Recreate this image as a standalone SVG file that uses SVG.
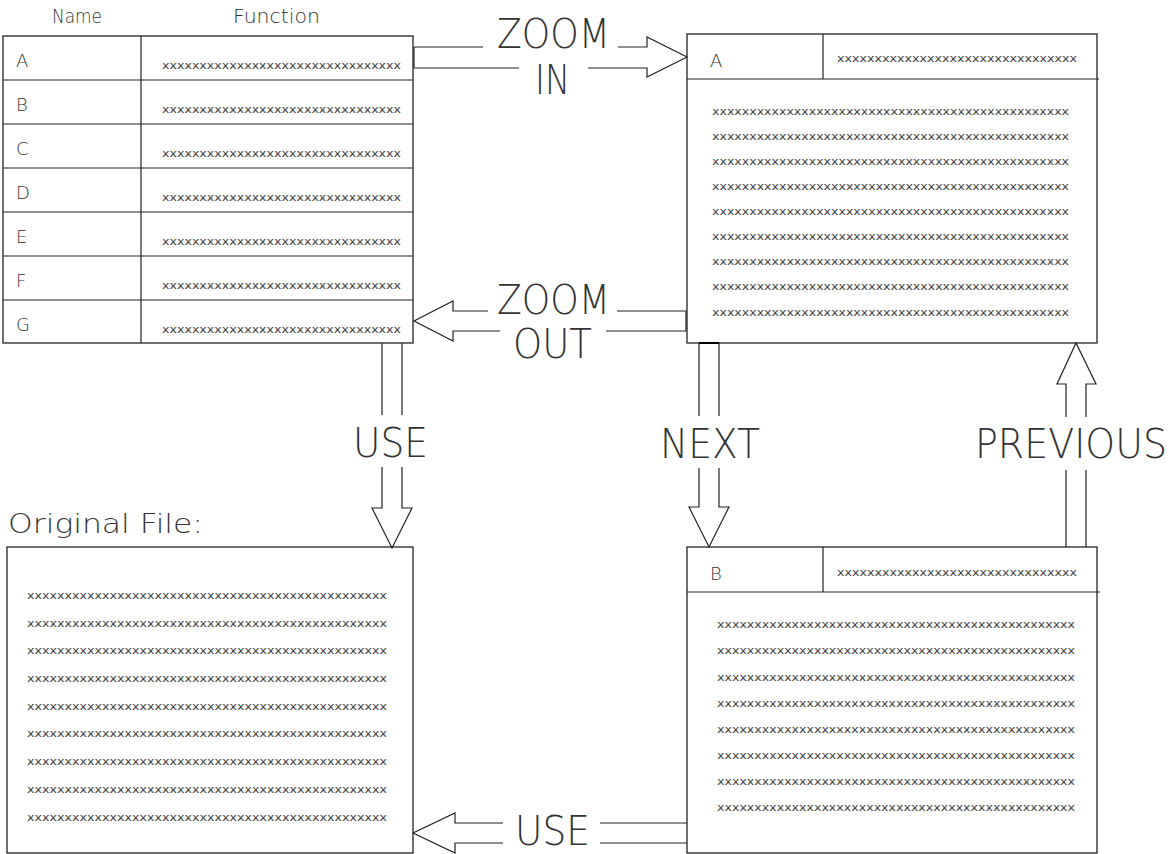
<svg xmlns="http://www.w3.org/2000/svg" width="1176" height="854" viewBox="0 0 1176 854">
<style>
  .bg{fill:#fff}
  .box{fill:none;stroke:#222;stroke-width:1.3}
  .ln{fill:none;stroke:#222;stroke-width:1.2}
  .cn{fill:none;stroke:#222;stroke-width:1.2;stroke-linejoin:miter}
  .t{font-family:"DejaVu Sans","Liberation Sans",sans-serif;font-weight:200;fill:#333}
  .xs{font-family:"DejaVu Sans","Liberation Sans",sans-serif;font-size:10px;fill:#444}
  .big{font-family:"DejaVu Sans","Liberation Sans",sans-serif;font-weight:200;font-size:41px;fill:#333}
  .sm{font-size:18px}
</style>
<rect class="bg" x="0" y="0" width="1176" height="854"/>

<g id="index-table">
  <text class="t" x="52" y="23" font-size="19" textLength="50" lengthAdjust="spacingAndGlyphs">Name</text>
  <text class="t" x="233" y="23" font-size="19" textLength="87" lengthAdjust="spacingAndGlyphs">Function</text>
  <rect class="box" x="3" y="36" width="410" height="307"/>
  <line class="ln" x1="141" y1="36" x2="141" y2="343"/>
  <line class="ln" x1="3" y1="80" x2="413" y2="80"/>
  <line class="ln" x1="3" y1="124" x2="413" y2="124"/>
  <line class="ln" x1="3" y1="168" x2="413" y2="168"/>
  <line class="ln" x1="3" y1="212" x2="413" y2="212"/>
  <line class="ln" x1="3" y1="256" x2="413" y2="256"/>
  <line class="ln" x1="3" y1="300" x2="413" y2="300"/>
  <text class="t sm" x="16" y="67">A</text>
  <text class="t sm" x="16" y="111">B</text>
  <text class="t sm" x="16" y="155">C</text>
  <text class="t sm" x="16" y="199">D</text>
  <text class="t sm" x="16" y="243">E</text>
  <text class="t sm" x="16" y="287">F</text>
  <text class="t sm" x="16" y="331">G</text>
  <text class="xs" x="162" y="69" textLength="239" lengthAdjust="spacingAndGlyphs">xxxxxxxxxxxxxxxxxxxxxxxxxxxxxxxx</text>
  <text class="xs" x="162" y="113" textLength="239" lengthAdjust="spacingAndGlyphs">xxxxxxxxxxxxxxxxxxxxxxxxxxxxxxxx</text>
  <text class="xs" x="162" y="157" textLength="239" lengthAdjust="spacingAndGlyphs">xxxxxxxxxxxxxxxxxxxxxxxxxxxxxxxx</text>
  <text class="xs" x="162" y="201" textLength="239" lengthAdjust="spacingAndGlyphs">xxxxxxxxxxxxxxxxxxxxxxxxxxxxxxxx</text>
  <text class="xs" x="162" y="245" textLength="239" lengthAdjust="spacingAndGlyphs">xxxxxxxxxxxxxxxxxxxxxxxxxxxxxxxx</text>
  <text class="xs" x="162" y="289" textLength="239" lengthAdjust="spacingAndGlyphs">xxxxxxxxxxxxxxxxxxxxxxxxxxxxxxxx</text>
  <text class="xs" x="162" y="333" textLength="239" lengthAdjust="spacingAndGlyphs">xxxxxxxxxxxxxxxxxxxxxxxxxxxxxxxx</text>
</g>

<g id="detail-a">
  <rect class="box" x="687" y="34" width="410" height="309"/>
  <line class="ln" x1="687" y1="79" x2="1099" y2="79"/>
  <line class="ln" x1="823" y1="34" x2="823" y2="79"/>
  <text class="t sm" x="710" y="67">A</text>
  <text class="xs" x="837" y="62" textLength="240" lengthAdjust="spacingAndGlyphs">xxxxxxxxxxxxxxxxxxxxxxxxxxxxxxxx</text>
  <text class="xs" x="712" y="115" textLength="357" lengthAdjust="spacingAndGlyphs">xxxxxxxxxxxxxxxxxxxxxxxxxxxxxxxxxxxxxxxxxxxxxxxx</text>
  <text class="xs" x="712" y="140" textLength="357" lengthAdjust="spacingAndGlyphs">xxxxxxxxxxxxxxxxxxxxxxxxxxxxxxxxxxxxxxxxxxxxxxxx</text>
  <text class="xs" x="712" y="165" textLength="357" lengthAdjust="spacingAndGlyphs">xxxxxxxxxxxxxxxxxxxxxxxxxxxxxxxxxxxxxxxxxxxxxxxx</text>
  <text class="xs" x="712" y="190" textLength="357" lengthAdjust="spacingAndGlyphs">xxxxxxxxxxxxxxxxxxxxxxxxxxxxxxxxxxxxxxxxxxxxxxxx</text>
  <text class="xs" x="712" y="215" textLength="357" lengthAdjust="spacingAndGlyphs">xxxxxxxxxxxxxxxxxxxxxxxxxxxxxxxxxxxxxxxxxxxxxxxx</text>
  <text class="xs" x="712" y="240" textLength="357" lengthAdjust="spacingAndGlyphs">xxxxxxxxxxxxxxxxxxxxxxxxxxxxxxxxxxxxxxxxxxxxxxxx</text>
  <text class="xs" x="712" y="265" textLength="357" lengthAdjust="spacingAndGlyphs">xxxxxxxxxxxxxxxxxxxxxxxxxxxxxxxxxxxxxxxxxxxxxxxx</text>
  <text class="xs" x="712" y="290" textLength="357" lengthAdjust="spacingAndGlyphs">xxxxxxxxxxxxxxxxxxxxxxxxxxxxxxxxxxxxxxxxxxxxxxxx</text>
  <text class="xs" x="712" y="316" textLength="357" lengthAdjust="spacingAndGlyphs">xxxxxxxxxxxxxxxxxxxxxxxxxxxxxxxxxxxxxxxxxxxxxxxx</text>
</g>

<g id="original-file">
  <text class="t" x="8" y="533" font-size="27" textLength="195" lengthAdjust="spacingAndGlyphs">Original File:</text>
  <rect class="box" x="7" y="547" width="406" height="306"/>
  <text class="xs" x="27" y="599" textLength="360" lengthAdjust="spacingAndGlyphs">xxxxxxxxxxxxxxxxxxxxxxxxxxxxxxxxxxxxxxxxxxxxxxxx</text>
  <text class="xs" x="27" y="627" textLength="360" lengthAdjust="spacingAndGlyphs">xxxxxxxxxxxxxxxxxxxxxxxxxxxxxxxxxxxxxxxxxxxxxxxx</text>
  <text class="xs" x="27" y="654" textLength="360" lengthAdjust="spacingAndGlyphs">xxxxxxxxxxxxxxxxxxxxxxxxxxxxxxxxxxxxxxxxxxxxxxxx</text>
  <text class="xs" x="27" y="682" textLength="360" lengthAdjust="spacingAndGlyphs">xxxxxxxxxxxxxxxxxxxxxxxxxxxxxxxxxxxxxxxxxxxxxxxx</text>
  <text class="xs" x="27" y="710" textLength="360" lengthAdjust="spacingAndGlyphs">xxxxxxxxxxxxxxxxxxxxxxxxxxxxxxxxxxxxxxxxxxxxxxxx</text>
  <text class="xs" x="27" y="737" textLength="360" lengthAdjust="spacingAndGlyphs">xxxxxxxxxxxxxxxxxxxxxxxxxxxxxxxxxxxxxxxxxxxxxxxx</text>
  <text class="xs" x="27" y="765" textLength="360" lengthAdjust="spacingAndGlyphs">xxxxxxxxxxxxxxxxxxxxxxxxxxxxxxxxxxxxxxxxxxxxxxxx</text>
  <text class="xs" x="27" y="793" textLength="360" lengthAdjust="spacingAndGlyphs">xxxxxxxxxxxxxxxxxxxxxxxxxxxxxxxxxxxxxxxxxxxxxxxx</text>
  <text class="xs" x="27" y="821" textLength="360" lengthAdjust="spacingAndGlyphs">xxxxxxxxxxxxxxxxxxxxxxxxxxxxxxxxxxxxxxxxxxxxxxxx</text>
</g>

<g id="detail-b">
  <rect class="box" x="687" y="547" width="410" height="306"/>
  <line class="ln" x1="687" y1="592" x2="1100" y2="592"/>
  <line class="ln" x1="823" y1="547" x2="823" y2="592"/>
  <text class="t sm" x="710" y="580">B</text>
  <text class="xs" x="837" y="576" textLength="240" lengthAdjust="spacingAndGlyphs">xxxxxxxxxxxxxxxxxxxxxxxxxxxxxxxx</text>
  <text class="xs" x="717" y="628" textLength="358" lengthAdjust="spacingAndGlyphs">xxxxxxxxxxxxxxxxxxxxxxxxxxxxxxxxxxxxxxxxxxxxxxxx</text>
  <text class="xs" x="717" y="654" textLength="358" lengthAdjust="spacingAndGlyphs">xxxxxxxxxxxxxxxxxxxxxxxxxxxxxxxxxxxxxxxxxxxxxxxx</text>
  <text class="xs" x="717" y="681" textLength="358" lengthAdjust="spacingAndGlyphs">xxxxxxxxxxxxxxxxxxxxxxxxxxxxxxxxxxxxxxxxxxxxxxxx</text>
  <text class="xs" x="717" y="707" textLength="358" lengthAdjust="spacingAndGlyphs">xxxxxxxxxxxxxxxxxxxxxxxxxxxxxxxxxxxxxxxxxxxxxxxx</text>
  <text class="xs" x="717" y="733" textLength="358" lengthAdjust="spacingAndGlyphs">xxxxxxxxxxxxxxxxxxxxxxxxxxxxxxxxxxxxxxxxxxxxxxxx</text>
  <text class="xs" x="717" y="759" textLength="358" lengthAdjust="spacingAndGlyphs">xxxxxxxxxxxxxxxxxxxxxxxxxxxxxxxxxxxxxxxxxxxxxxxx</text>
  <text class="xs" x="717" y="785" textLength="358" lengthAdjust="spacingAndGlyphs">xxxxxxxxxxxxxxxxxxxxxxxxxxxxxxxxxxxxxxxxxxxxxxxx</text>
  <text class="xs" x="717" y="811" textLength="358" lengthAdjust="spacingAndGlyphs">xxxxxxxxxxxxxxxxxxxxxxxxxxxxxxxxxxxxxxxxxxxxxxxx</text>
</g>

<g id="connectors">
  <!-- ZOOM IN -->
  <path class="cn" d="M414,47 L414,68 M414,47 L483,47 M618,47 L647,47 L647,37 L687,57 L647,77 L647,68 L588,68 M519,68 L414,68" stroke-width="2"/>
  <text class="big" x="497" y="48" textLength="113" lengthAdjust="spacingAndGlyphs">ZOOM</text>
  <text class="big" x="535" y="94" textLength="35" lengthAdjust="spacingAndGlyphs">IN</text>
  <!-- ZOOM OUT -->
  <path class="cn" d="M488,311 L453,311 L453,301 L414,321 L453,341 L453,331 L500,331 M606,331 L686,331 L686,311 L617,311"/>
  <text class="big" x="497" y="314" textLength="113" lengthAdjust="spacingAndGlyphs">ZOOM</text>
  <text class="big" x="513" y="358" textLength="79" lengthAdjust="spacingAndGlyphs">OUT</text>
  <!-- USE (down) -->
  <path class="cn" d="M382,343 L382,415 M402,343 L402,415 M382,467 L382,508 L372,508 L392,548 L412,508 L402,508 L402,467"/>
  <text class="big" x="353" y="457" textLength="75" lengthAdjust="spacingAndGlyphs">USE</text>
  <!-- NEXT -->
  <path class="cn" d="M699,343 L699,416 M719,343 L719,416 M699,468 L699,507 L689,507 L709,547 L729,507 L719,507 L719,468"/>
  <line x1="699" y1="343" x2="719" y2="343" stroke="#000" stroke-width="2"/>
  <text class="big" x="660" y="458" textLength="100" lengthAdjust="spacingAndGlyphs">NEXT</text>
  <!-- PREVIOUS -->
  <path class="cn" d="M1066,547 L1066,470 M1086,547 L1086,470 M1066,417 L1066,384 L1057,384 L1076,343 L1096,384 L1086,384 L1086,417"/>
  <text class="big" x="975" y="458" font-size="34" textLength="192" lengthAdjust="spacingAndGlyphs">PREVIOUS</text>
  <!-- USE (left) -->
  <path class="cn" d="M503,823 L455,823 L455,813 L413,833 L455,853 L455,843 L503,843 M600,823 L687,823 M600,843 L687,843"/>
  <text class="big" x="515" y="845" font-size="36" textLength="75" lengthAdjust="spacingAndGlyphs">USE</text>
</g>
</svg>
